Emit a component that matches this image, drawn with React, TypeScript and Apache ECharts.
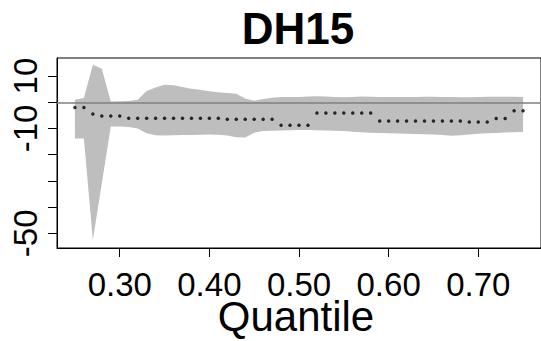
import React, { useEffect, useRef } from "react";
import * as echarts from "echarts";

const titleText = "DH15";
const xAxisTitle = "Quantile";

const quantiles = [
  0.25, 0.26, 0.27, 0.28, 0.29, 0.3, 0.31, 0.32, 0.33, 0.34,
  0.35, 0.36, 0.37, 0.38, 0.39, 0.4, 0.41, 0.42, 0.43, 0.44,
  0.45, 0.46, 0.47, 0.48, 0.49, 0.5, 0.51, 0.52, 0.53, 0.54,
  0.55, 0.56, 0.57, 0.58, 0.59, 0.6, 0.61, 0.62, 0.63, 0.64,
  0.65, 0.66, 0.67, 0.68, 0.69, 0.7, 0.71, 0.72, 0.73, 0.74,
  0.75,
];

const estimates = [
  -2.0, -2.0, -4.5, -5.2, -5.2, -5.2, -6.1, -6.1, -6.1, -6.1,
  -6.1, -6.1, -6.1, -6.1, -6.1, -6.1, -6.1, -6.5, -6.5, -6.5,
  -6.5, -6.5, -6.5, -8.8, -8.8, -8.8, -8.8, -4.1, -4.1, -4.1,
  -4.1, -4.1, -4.1, -4.1, -7.1, -7.1, -7.1, -7.1, -7.1, -7.1,
  -7.1, -7.1, -7.1, -7.1, -7.5, -7.5, -7.5, -6.2, -6.2, -3.2,
  -3.2,
];

const upperBound = [
  1.0, 1.6, 14.3, 12.8, 0.3, 0.4, 0.5, 1.0, 4.3, 5.6,
  6.7, 6.5, 5.8, 5.2, 4.8, 4.2, 3.8, 3.5, 3.3, 1.4,
  0.6, 1.3, 1.7, 2.0, 2.0, 2.0, 2.2, 2.3, 2.2, 2.0,
  1.9, 2.0, 2.2, 2.1, 2.0, 2.0, 2.0, 2.0, 2.0, 2.1,
  2.1, 2.0, 2.0, 1.9, 1.9, 2.0, 2.1, 2.1, 2.1, 2.1,
  2.0,
];

const lowerBound = [
  -13.8, -13.8, -52.5, -31.0, -9.2, -9.2, -9.4, -10.0, -11.8, -12.6,
  -12.7, -12.6, -12.5, -12.5, -12.4, -12.3, -12.4, -12.7, -13.3, -13.4,
  -11.6, -11.0, -10.9, -10.8, -10.7, -10.6, -10.6, -10.7, -10.8, -10.9,
  -11.0, -11.2, -11.4, -11.6, -11.7, -11.8, -11.9, -12.0, -12.1, -12.2,
  -12.3, -12.5, -12.8, -12.6, -12.3, -12.0, -11.8, -11.7, -11.5, -11.4,
  -11.3,
];

const xTickValues = [0.3, 0.4, 0.5, 0.6, 0.7];
const yTickValues = [10, 0, -10, -20, -30, -40, -50];
const yLabelValues = [10, -10, -50];

const FONT = '"Liberation Sans", Arial, Helvetica, sans-serif';

export default function App() {
  const ref = useRef<HTMLDivElement>(null);

  useEffect(() => {
    if (!ref.current) return;
    const chart = echarts.init(ref.current, undefined, { renderer: "svg" });

    const option: any = {
      animation: false,
      backgroundColor: "#ffffff",
      grid: {
        left: 57,
        top: 58,
        width: 489,
        height: 190,
        show: true,
        borderColor: "#000000",
        borderWidth: 1,
        backgroundColor: "transparent",
      },
      xAxis: {
        type: "value",
        min: 0.23,
        max: 0.77,
        splitLine: { show: false },
        axisLine: { show: true, onZero: false, lineStyle: { color: "#000", width: 1 } },
        axisTick: {
          show: true,
          length: 9,
          customValues: xTickValues,
          lineStyle: { color: "#000", width: 1 },
        },
        axisLabel: {
          show: true,
          customValues: xTickValues,
          formatter: (v: number) => v.toFixed(2),
          fontFamily: FONT,
          fontSize: 33,
          lineHeight: 26,
          verticalAlign: "middle",
          color: "#000",
          margin: 36,
        },
      },
      yAxis: {
        type: "value",
        min: -55.6,
        max: 16.9,
        splitLine: { show: false },
        axisLine: { show: true, onZero: false, lineStyle: { color: "#000", width: 1 } },
        axisTick: {
          show: true,
          length: 9,
          customValues: yTickValues,
          lineStyle: { color: "#000", width: 1 },
        },
        axisLabel: {
          show: true,
          customValues: yLabelValues,
          rotate: 90,
          formatter: (v: number) => String(v),
          fontFamily: FONT,
          fontSize: 33,
          color: "#000",
          margin: 15,
        },
      },
      graphic: [
        {
          type: "text",
          x: 298,
          y: 6,
          style: {
            text: titleText,
            font: `bold 44px ${FONT}`,
            fill: "#000",
            textAlign: "center",
            textVerticalAlign: "top",
          },
        },
        {
          type: "text",
          x: 296,
          y: 316,
          style: {
            text: xAxisTitle,
            font: `42px ${FONT}`,
            lineHeight: 34,
            fill: "#000",
            textAlign: "center",
            textVerticalAlign: "middle",
          },
        },
      ],
      series: [
        {
          type: "custom",
          silent: true,
          clip: true,
          data: [[quantiles[0], upperBound[0]]],
          renderItem: (params: any, api: any) => {
            if (params.dataIndex !== 0) return null;
            const pts: number[][] = [];
            for (let i = 0; i < quantiles.length; i++) {
              pts.push(api.coord([quantiles[i], upperBound[i]]));
            }
            for (let i = quantiles.length - 1; i >= 0; i--) {
              pts.push(api.coord([quantiles[i], lowerBound[i]]));
            }
            return {
              type: "polygon",
              shape: { points: pts },
              style: { fill: "#bebebe", stroke: "none" },
            };
          },
          z: 1,
        },
        {
          type: "scatter",
          data: quantiles.map((q, i) => [q, estimates[i]]),
          symbol: "circle",
          symbolSize: 3.5,
          itemStyle: { color: "#000" },
          silent: true,
          z: 3,
          markLine: {
            silent: true,
            symbol: "none",
            label: { show: false },
            lineStyle: { color: "#7f7f7f", width: 1.5, type: "solid" },
            data: [{ yAxis: 0 }],
          },
        },
      ],
    };

    chart.setOption(option);
    return () => chart.dispose();
  }, []);

  return (
    <div
      ref={ref}
      style={{ position: "absolute", left: 0, top: 0, width: 541, height: 341 }}
    />
  );
}
